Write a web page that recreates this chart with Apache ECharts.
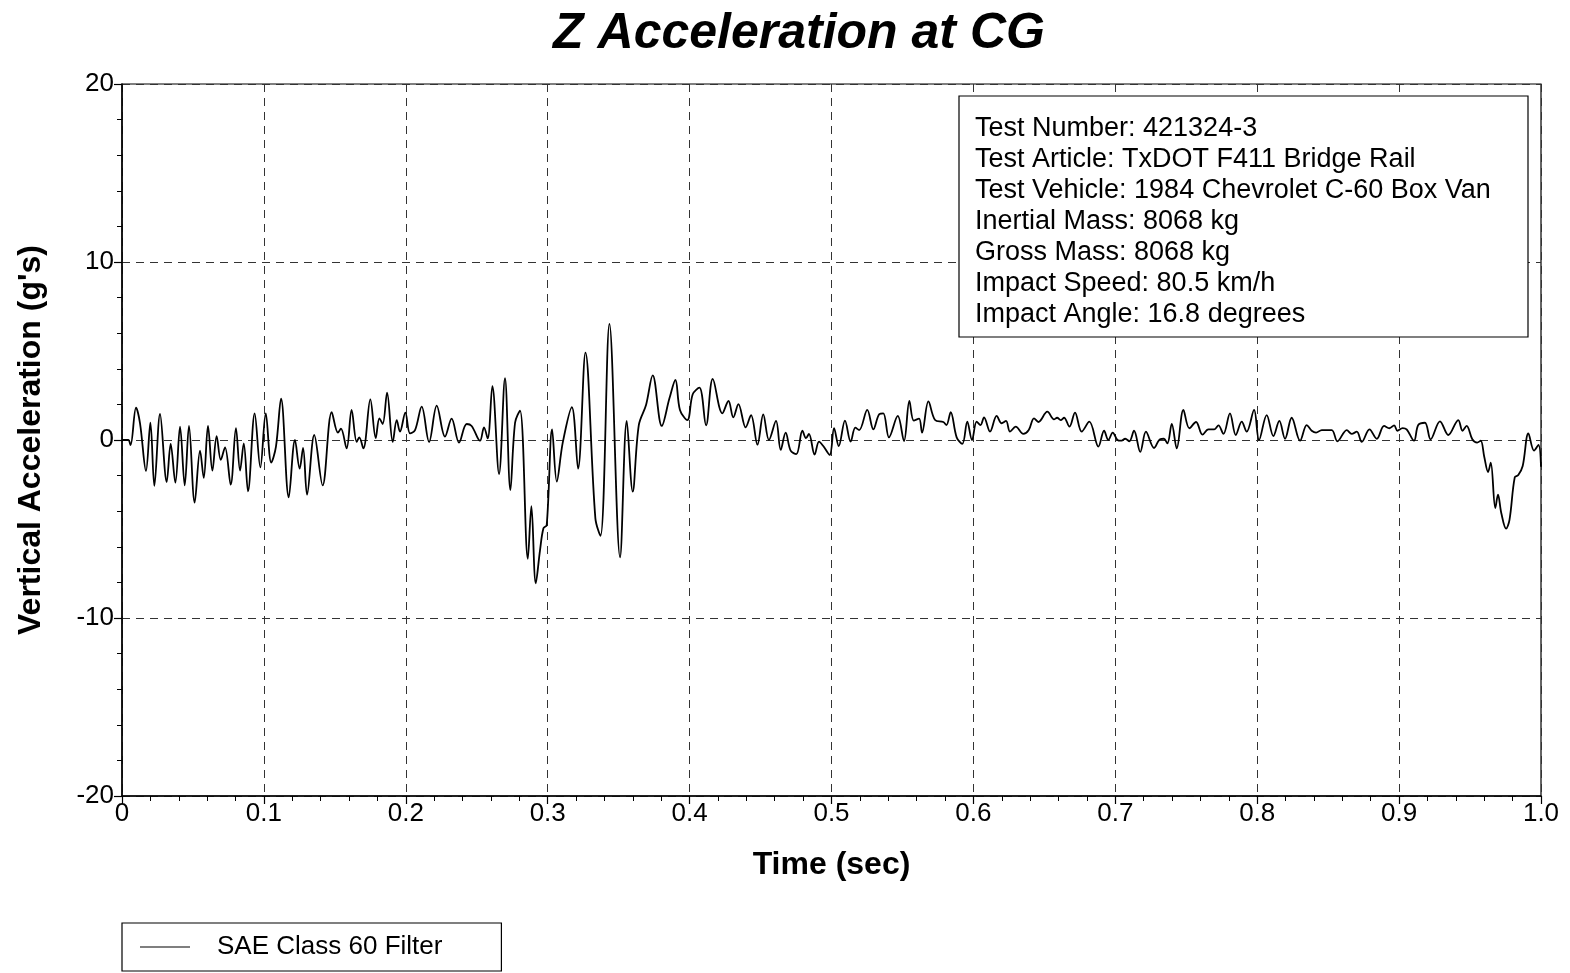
<!DOCTYPE html>
<html>
<head>
<meta charset="utf-8">
<script src="https://cdn.jsdelivr.net/npm/echarts@6/dist/echarts.min.js"></script>
<style>
html,body{margin:0;padding:0;background:#fff;}
#chart{width:1570px;height:973px;}
</style>
</head>
<body>
<div id="chart"></div>
<script>
const titleText = 'Z Acceleration at CG';
const xAxisName = 'Time (sec)';
const yAxisName = "Vertical Acceleration (g's)";
const seriesName = 'SAE Class 60 Filter';
const infoLines = [
  'Test Number: 421324-3',
  'Test Article: TxDOT F411 Bridge Rail',
  'Test Vehicle: 1984 Chevrolet C-60 Box Van',
  'Inertial Mass: 8068 kg',
  'Gross Mass: 8068 kg',
  'Impact Speed: 80.5 km/h',
  'Impact Angle: 16.8 degrees'
];
const xTicks = [0, 0.1, 0.2, 0.3, 0.4, 0.5, 0.6, 0.7, 0.8, 0.9, 1.0];
const yTicks = [-20, -10, 0, 10, 20];

const timeSec = [
0,0.0044,0.006,0.0099,0.0127,0.0169,0.020,0.0228,0.0268,0.0315,0.0343,0.0376,0.0409,0.0442,0.0472,0.0512,0.055,0.0576,0.0606,0.0637,
0.0667,0.0696,0.0726,0.0766,0.0803,0.0832,0.0858,0.0888,0.0935,0.0975,0.1013,0.1052,0.1085,0.1121,0.1175,0.1219,0.1252,0.1276,0.1304,0.1355,
0.1414,0.1478,0.1522,0.1543,0.1583,0.1618,0.1654,0.1672,0.1701,0.1750,0.1788,0.1814,0.1837,0.1868,0.1908,0.1936,0.1959,0.1997,0.2030,0.2065,
0.2112,0.2164,0.2218,0.2276,0.2323,0.2375,0.2429,0.2464,0.2523,0.2551,0.2577,0.2610,0.2657,0.2699,0.2737,0.2770,0.2805,0.2860,0.2885,0.2916,
0.2946,0.2970,0.2993,0.3031,0.3064,0.3106,0.3170,0.3214,0.3266,0.3336,0.3372,0.3435,0.3510,0.3557,0.3599,0.3642,0.3693,0.3740,0.3804,0.3858,
0.3900,0.3932,0.3984,0.4022,0.4069,0.4116,0.4163,0.4231,0.4274,0.4308,0.4344,0.4395,0.4433,0.4478,0.4519,0.4559,0.4609,0.4642,0.4677,0.4712,
0.4752,0.4795,0.4820,0.4841,0.4881,0.4912,0.4942,0.4987,0.5018,0.5051,0.5095,0.5135,0.5168,0.5195,0.5252,0.5295,0.5337,0.5365,0.5405,0.5467,
0.5511,0.5549,0.5580,0.5617,0.5638,0.5683,0.5730,0.5788,0.5810,0.5840,0.5882,0.5922,0.5957,0.5990,0.6023,0.6050,0.6075,0.6117,0.6164,0.6199,
0.6230,0.6258,0.6298,0.6352,0.6390,0.6427,0.6458,0.6521,0.6568,0.6590,0.6615,0.6639,0.6677,0.6716,0.6763,0.6817,0.6881,0.6921,0.6951,0.6982,
0.7015,0.7040,0.7070,0.7099,0.7132,0.7176,0.7216,0.7273,0.7315,0.7343,0.7367,0.7398,0.7433,0.7480,0.7522,0.7569,0.7614,0.7656,0.7698,0.7727,
0.7762,0.7808,0.7849,0.7891,0.7926,0.7978,0.8013,0.8067,0.8114,0.8156,0.8196,0.8243,0.8302,0.8349,0.8384,0.8415,0.8455,0.8525,0.8565,0.8631,
0.8666,0.8702,0.8737,0.8791,0.8843,0.8894,0.8932,0.8965,0.8988,0.9025,0.9053,0.9105,0.9135,0.9182,0.9222,0.9288,0.9347,0.9417,0.9447,0.9476,
0.9516,0.9550,0.9575,0.9600,0.9627,0.9646,0.9678,0.9697,0.9720,0.9754,0.9778,0.9815,0.9840,0.9871,0.9911,0.9951,0.9982,1.0
];
const accelG = [
0,0,-0.28,1.82,0.94,-1.74,0.97,-2.58,1.46,-2.36,-0.22,-2.40,0.75,-2.55,0.79,-3.52,-0.6,-2.13,0.79,-1.72,
0.22,-1.12,-0.41,-2.51,0.67,-1.72,-0.19,-2.88,1.50,-1.54,1.50,-1.27,-0.37,2.32,-3.22,0,-1.61,-0.45,-3.07,0.28,
-2.55,1.57,0.41,0.64,-0.47,1.69,-0.11,0.15,-0.47,2.28,0.11,1.22,0.9,2.66,-0.11,1.12,0.47,1.54,0.37,0.55,
1.87,-0.11,1.93,0.19,1.20,-0.15,0.90,0.79,-0.04,0.71,0.09,3.03,-1.91,3.48,-2.81,0.97,1.65,-6.67,-3.71,-8.05,
-6.18,-4.96,-4.78,0.60,-2.34,-0.15,1.84,-1.61,4.91,-4.40,-5.39,6.52,-6.59,1.07,-2.90,0.84,1.97,3.63,0.79,2.34,
3.37,1.69,1.12,2.57,2.94,0.82,3.43,1.50,2.19,1.27,2.02,0.71,1.40,-0.26,1.44,0,1.07,-0.56,0.41,-0.60,
-0.79,0.52,0.10,0.34,-0.82,-0.09,-0.34,-0.84,0.66,-0.34,1.09,-0.09,0.69,0.56,1.69,0.60,1.46,1.50,0.15,1.35,
-0.06,2.19,1.09,1.20,0.41,2.17,1.12,1.01,0.84,1.57,0.15,-0.22,1.03,0.0,1.03,0.84,1.27,0.47,1.35,0.94,
1.07,0.47,0.75,0.34,0.56,1.22,1.01,1.59,1.16,1.25,1.12,1.25,0.75,1.54,0.47,1.03,-0.37,0.52,0,0.41,
0,-0.04,0.07,-0.07,0.52,-0.67,0.47,-0.45,0.04,0.07,-0.19,0.90,-0.47,1.69,0.66,1.01,0.30,0.60,0.60,0.82,
0.34,1.50,0.28,1.03,0.47,1.69,0,1.40,0.22,1.07,0.07,1.25,-0.04,0.84,0.52,0.41,0.56,0.56,-0.07,0.56,
0.34,0.47,-0.11,0.60,0.07,0.79,0.66,0.82,0.52,0.67,0.60,-0.04,0.84,0.97,0.04,1.05,0.28,1.12,0.52,0.79,
0.04,-0.15,-0.04,-0.94,-1.80,-1.27,-3.82,-3.07,-4.10,-4.98,-4.49,-2.10,-1.97,-1.46,0.37,-0.60,-0.28,-1.50
];

const FONT = '"Liberation Sans", Arial, Helvetica, sans-serif';
const data = timeSec.map((t, i) => [t, accelG[i]]);

const chart = echarts.init(document.getElementById('chart'), null, {renderer: 'canvas'});

const boxX = 959, boxY = 96, boxW = 569, boxH = 241;
const infoGraphic = [{
  type: 'rect',
  shape: {x: boxX, y: boxY, width: boxW, height: boxH},
  style: {fill: '#fff', stroke: '#000', lineWidth: 1.2},
  z: 100
}].concat(infoLines.map((s, i) => ({
  type: 'text',
  x: 975, y: 129 + i * 30.9,
  style: {text: s, font: '27px ' + FONT, fill: '#000', textVerticalAlign: 'middle'},
  z: 101
})));

chart.setOption({
  animation: false,
  backgroundColor: '#fff',
  title: {
    text: titleText,
    left: 794, top: 4, textAlign: 'center',
    textStyle: {fontFamily: FONT, fontSize: 50, fontWeight: 'bold', fontStyle: 'italic', color: '#000'}
  },
  grid: {
    left: 122, right: 29, top: 84, bottom: 177,
    show: true, borderColor: '#000', borderWidth: 1.2,
    containLabel: false, outerBoundsMode: 'none'
  },
  legend: {
    data: [{name: seriesName, icon: 'path://M0,0 L50,0 L50,1 L0,1 Z'}],
    left: 122, top: 923,
    orient: 'horizontal',
    borderColor: '#000', borderWidth: 1.2,
    padding: [11, 59, 11, 18],
    itemWidth: 50, itemHeight: 2,
    textStyle: {fontFamily: FONT, fontSize: 26, color: '#000', padding: [0, 0, 0, 22]},
    selectedMode: false
  },
  xAxis: {
    type: 'value', min: xTicks[0], max: xTicks[xTicks.length - 1], interval: 0.1,
    name: xAxisName, nameLocation: 'middle', nameGap: 53,
    nameTextStyle: {fontFamily: FONT, fontSize: 32, fontWeight: 'bold', color: '#000'},
    axisLine: {show: true, onZero: false, lineStyle: {color: '#000', width: 1.5}},
    axisTick: {show: true, inside: false, length: 8, lineStyle: {color: '#000', width: 1.2}},
    minorTick: {show: true, splitNumber: 5, length: 5, lineStyle: {color: '#000', width: 1}},
    axisLabel: {
      fontFamily: FONT, fontSize: 26, color: '#000', margin: 5,
      formatter: v => (Math.abs(v) < 1e-9 ? '0' : v.toFixed(1))
    },
    splitLine: {show: true, lineStyle: {color: '#333', type: [8, 6], width: 1}}
  },
  yAxis: {
    type: 'value', min: yTicks[0], max: yTicks[yTicks.length - 1], interval: 10,
    name: yAxisName, nameLocation: 'middle', nameGap: 75,
    nameTextStyle: {fontFamily: FONT, fontSize: 32, fontWeight: 'bold', color: '#000'},
    axisLine: {show: true, onZero: false, lineStyle: {color: '#000', width: 1.5}},
    axisTick: {show: true, inside: false, length: 8, lineStyle: {color: '#000', width: 1.2}},
    minorTick: {show: true, splitNumber: 5, length: 5, lineStyle: {color: '#000', width: 1}},
    axisLabel: {fontFamily: FONT, fontSize: 26, color: '#000', margin: 8,
      formatter: v => String(Math.round(v))},
    splitLine: {show: true, lineStyle: {color: '#333', type: [8, 6], width: 1}}
  },
  series: [{
    name: seriesName,
    type: 'line',
    data: data,
    showSymbol: false,
    smooth: 0.35,
    clip: true,
    lineStyle: {color: '#000', width: 1.8},
    itemStyle: {color: '#000'},
    z: 5
  }],
  graphic: infoGraphic
});
</script>
</body>
</html>
